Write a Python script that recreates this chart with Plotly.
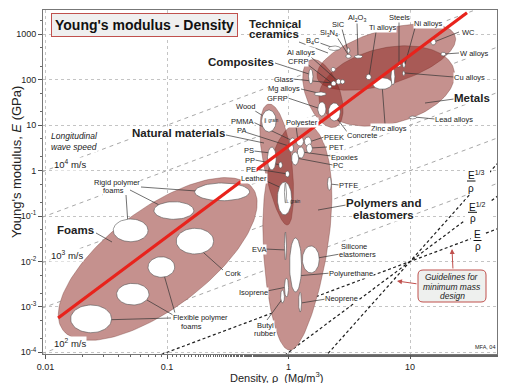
import numpy as np
import plotly.graph_objects as go

# ---------------- data (Young's modulus E in GPa, density rho in Mg/m^3) ----------------
wave_speed_k = [2, 1, 0, -1, -2]          # guide lines E = 10**k * rho
guide_slope = [1, 2, 3]                   # E/rho, E^1/2/rho, E^1/3/rho guidelines
guide_rho0 = 10.0                         # all three pass through this point
guide_E0 = 0.01

red_rho = [0.0127, 29.4]
red_E = [5.69e-4, 2990.0]

# family envelopes: major-axis end points, relative width, egg factor
fam_name = ["Foams", "Natural materials", "Polymers and elastomers",
            "Technical ceramics", "Metals", "Composites"]
fam_rho1 = [0.0139, 0.684, 1.30, 1.727, 1.794, 1.513]
fam_E1 = [3.1e-4, 29.2, 11.7, 109.0, 32.4, 272.0]
fam_rho2 = [0.506, 0.979, 1.017, 23.5, 23.0, 2.427]
fam_E2 = [0.414, 0.0635, 1.12e-4, 918.0, 163.8, 9.11]
fam_width = [0.42, 0.23, 0.29, 0.375, 0.548, 0.475]
fam_egg = [0.0, 0.2, 0.25, 0.0, 0.0, 0.0]

# material property bubbles
mat_name = ["Rigid polymer foam 1", "Rigid polymer foam 2", "Rigid polymer foam 3", "Cork",
            "Flexible polymer foam 1", "Flexible polymer foam 2", "Flexible polymer foam 3",
            "B4C", "SiC", "Si3N4", "Al2O3", "WC",
            "W alloys", "Ni alloys", "Steels", "Cu alloys", "Ti alloys", "Zinc alloys", "Cast irons",
            "Lead alloys", "Al alloys 1", "Al alloys 2", "Mg alloys",
            "Glass 1", "Glass 2", "Al-SiC", "CFRP", "GFRP", "Concrete",
            "Wood parallel", "Wood perpendicular", "Leather",
            "PS", "PP", "PE", "PMMA", "PA", "Polyester", "PEEK", "PET", "Epoxies", "PC", "PTFE",
            "EVA", "Polyurethane", "Silicone elastomers", "Isoprene", "Butyl rubber", "Neoprene"]
mat_rho_lo = [0.169, 0.078, 0.0361, 0.119, 0.0698, 0.0385, 0.0161,
              2.13, 3.03, 2.96, 3.48, 14.8,
              17.9, 8.66, 7.65, 8.66, 4.34, 4.91, 6.96,
              9.83, 2.46, 2.67, 1.63,
              2.24, 2.10, 2.24, 1.46, 1.74, 2.13,
              0.60, 0.81, 0.925,
              0.67, 0.83, 0.94, 1.02, 1.00, 1.16, 1.35, 1.40, 1.18, 1.06, 2.09,
              0.925, 1.02, 1.30, 0.925, 0.86, 1.21]
mat_rho_hi = [0.478, 0.166, 0.0698, 0.242, 0.1156, 0.0711, 0.035,
              2.67, 3.20, 3.27, 4.06, 16.3,
              19.7, 9.12, 8.40, 9.07, 4.79, 7.09, 7.50,
              11.3, 2.70, 2.90, 2.04,
              2.46, 2.26, 2.43, 1.59, 2.03, 2.67,
              0.79, 1.06, 0.961,
              0.79, 0.89, 1.02, 1.14, 1.10, 1.33, 1.54, 1.57, 1.35, 1.21, 2.25,
              0.961, 1.28, 1.79, 1.00, 0.925, 1.28]
mat_E_lo = [0.217, 0.0847, 0.0272, 0.0146, 0.00448, 0.0011, 0.00027,
            440, 382, 297, 297, 582,
            333, 184, 191, 123, 100, 61.6, 76.6,
            13.7, 79.4, 80.6, 43.9,
            72.8, 64.8, 150, 80.6, 15.9, 12.4,
            7.1, 0.106, 0.194,
            1.03, 1.14, 0.72, 3.66, 2.57, 3.48, 3.48, 2.44, 1.89, 1.33, 0.37,
            0.0108, 0.00213, 0.0056, 0.00165, 0.00122, 0.00077]
mat_E_hi = [0.533, 0.207, 0.086, 0.0537, 0.0127, 0.0033, 0.0011,
            553, 507, 363, 351, 788,
            402, 250, 230, 156, 132, 111, 179,
            15.9, 104, 101, 53.7,
            93.8, 76.6, 188, 172, 32.4, 30.8,
            21.6, 0.56, 0.533,
            3.3, 1.55, 0.98, 5.22, 3.85, 5.58, 5.49, 3.85, 3.31, 2.57, 0.72,
            0.0445, 0.0329, 0.0219, 0.0043, 0.00235, 0.0021]

x_tick_vals = [0.01, 0.1, 1, 10]
x_tick_text = ["0.01", "0.1", "1", "10"]
y_tick_vals = [1e-4, 1e-3, 1e-2, 1e-1, 1, 10, 100, 1000]
y_tick_text = ["10<sup>-4</sup>", "10<sup>-3</sup>", "10<sup>-2</sup>", "10<sup>-1</sup>",
               "1", "10", "100", "1000"]

# ---------------- layout geometry ----------------
OFF = 8                       # page body margin around the figure
FIG_W, FIG_H = 490, 375
ML, MR, MT, MB = 35, 1, 2, 29
PW, PH = FIG_W - ML - MR, FIG_H - MT - MB
PL, PB = OFF + ML, OFF + FIG_H - MB          # plot left / bottom in page pixels
XR = [-2.0205, 1.7151]
YR = [-4.037, 3.535]
FONT = "Liberation Sans, Arial, Helvetica, sans-serif"
ENV_FILL = "rgba(140,35,30,0.5)"
ENV_LINE = "rgba(100,40,35,0.55)"
BOX_RED = "#c0504d"

aspect = (PH / (YR[1] - YR[0])) / (PW / (XR[1] - XR[0]))


def px_to_data(px, py):
    lx = XR[0] + (px - PL) / PW * (XR[1] - XR[0])
    ly = YR[0] + (PB - py) / PH * (YR[1] - YR[0])
    return 10 ** lx, 10 ** ly


def px_to_paper(px, py):
    return (px - PL) / PW, (PB - py) / PH


def envelope(r1, e1, r2, e2, ratio, egg, n=160):
    u1, v1 = np.log10(r1), np.log10(e1) * aspect
    u2, v2 = np.log10(r2), np.log10(e2) * aspect
    cu, cv = (u1 + u2) / 2, (v1 + v2) / 2
    du, dv = u2 - u1, v2 - v1
    length = np.hypot(du, dv)
    a = length / 2
    ux, uy = du / length, dv / length
    nx, ny = -uy, ux
    t = np.linspace(0, 2 * np.pi, n)
    s = -np.cos(t)
    w = np.sin(t) * ratio * a * (1 - egg * s)
    U = cu + s * a * ux + w * nx
    V = cv + s * a * uy + w * ny
    return 10 ** U, 10 ** (V / aspect)


def bubble(rlo, rhi, elo, ehi, n=60):
    t = np.linspace(0, 2 * np.pi, n)
    lx0, lx1 = np.log10(rlo), np.log10(rhi)
    ly0, ly1 = np.log10(elo), np.log10(ehi)
    X = (lx0 + lx1) / 2 + (lx1 - lx0) / 2 * np.cos(t)
    Y = (ly0 + ly1) / 2 + (ly1 - ly0) / 2 * np.sin(t)
    return 10 ** X, 10 ** Y


fig = go.Figure()

# longitudinal wave speed guide lines
gr = np.array([0.004, 100.0])
for k in wave_speed_k:
    fig.add_trace(go.Scatter(x=gr, y=10.0 ** k * gr, mode="lines",
                             line=dict(color="#a8a8a8", width=1, dash="4px,4px"),
                             hoverinfo="skip", showlegend=False))

# minimum mass design guidelines
for m in guide_slope:
    rr = np.array([0.05, 100.0])
    fig.add_trace(go.Scatter(x=rr, y=guide_E0 * (rr / guide_rho0) ** m, mode="lines",
                             line=dict(color="#1e1e1e", width=1.2, dash="3px,2.5px"),
                             hoverinfo="skip", showlegend=False))

# white underlays for envelopes
env_paths = [envelope(fam_rho1[i], fam_E1[i], fam_rho2[i], fam_E2[i], fam_width[i], fam_egg[i])
             for i in range(len(fam_name))]
for ex, ey in env_paths:
    fig.add_trace(go.Scatter(x=ex, y=ey, mode="lines", fill="toself", fillcolor="white",
                             line=dict(width=0), hoverinfo="skip", showlegend=False))
for ex, ey in env_paths:
    fig.add_trace(go.Scatter(x=ex, y=ey, mode="lines", fill="toself", fillcolor=ENV_FILL,
                             line=dict(color=ENV_LINE, width=0.6), hoverinfo="skip", showlegend=False))

# leader lines (page pixel layout positions)
leaders = [
    ((299, 42), (328, 53)), ((275, 63), (309, 74)), ((226, 135), (264, 143)),
    ((454, 99), (425, 103)), ((346, 205), (318, 210)), ((96, 233), (112, 242)),
    ((357, 22), (358, 56)), ((342, 29), (348, 51)), ((337, 37), (349, 56)),
    ((320, 43), (334, 48)), ((376, 32), (369, 77)), ((399, 21), (399, 65)),
    ((415, 28), (405, 64)), ((459, 32), (434, 42)), ((459, 53), (444, 54)),
    ((454, 77), (405, 73)), ((435, 119), (414, 117)), ((385, 124), (382, 84)),
    ((348, 133), (335, 116)), ((311, 57), (339, 82)), ((307, 64), (333, 84)),
    ((293, 79), (332, 83)), ((301, 89), (318, 93)), ((288, 98), (321, 109)),
    ((252, 109), (268, 119)), ((253, 122), (293, 141)), ((245, 132), (292, 147)),
    ((296, 126), (298, 141)), ((324, 137), (309, 142)), ((327, 147), (311, 148)),
    ((331, 156), (302, 152)), ((333, 165), (296, 158)), ((254, 151), (271, 153)),
    ((255, 160), (281, 165)), ((256, 169), (288, 174)), ((264, 180), (286, 190)),
    ((339, 185), (330, 184)), ((265, 249), (286, 250)), ((340, 254), (312, 259)),
    ((331, 273), (296, 276)), ((267, 291), (287, 287)), ((326, 299), (301, 303)),
    ((267, 320), (283, 298)),
    ((141, 187), (210, 192)), ((130, 190), (165, 208)), ((126, 195), (128, 225)),
    ((223, 270), (195, 245)),
    ((171, 318), (100, 320)), ((173, 315), (140, 296)), ((175, 313), (162, 268)),
]
lx, ly = [], []
for (a, b) in leaders:
    x0, y0 = px_to_data(*a)
    x1, y1 = px_to_data(*b)
    lx += [x0, x1, None]
    ly += [y0, y1, None]
fig.add_trace(go.Scatter(x=lx, y=ly, mode="lines", line=dict(color="#333333", width=0.7),
                         hoverinfo="skip", showlegend=False))

# material bubbles
for i in range(len(mat_name)):
    bx, by = bubble(mat_rho_lo[i], mat_rho_hi[i], mat_E_lo[i], mat_E_hi[i])
    fig.add_trace(go.Scatter(x=bx, y=by, mode="lines", fill="toself", fillcolor="white",
                             line=dict(color="#555555", width=0.6), name=mat_name[i],
                             hoverinfo="skip", showlegend=False))

# red selection line
fig.add_trace(go.Scatter(x=red_rho, y=red_E, mode="lines",
                         line=dict(color="#e8231c", width=3.2), hoverinfo="skip", showlegend=False))

# ---------------- annotations ----------------
annotations = []
shapes = []


def lab(text, px, py, size=7.5, bold=False, italic=False, xanchor="center", bg=True, color="#222222"):
    if bold:
        text = "<b>" + text + "</b>"
    if italic:
        text = "<i>" + text + "</i>"
    x, y = px_to_paper(px, py)
    annotations.append(dict(text=text, x=x, y=y, xref="paper", yref="paper", xanchor=xanchor,
                            yanchor="middle", showarrow=False,
                            font=dict(size=size, family=FONT, color=color),
                            bgcolor="white" if bg else "rgba(0,0,0,0)", borderpad=0))


# family labels
lab("ceramics", 248, 34, 11.5, bold=True, xanchor="left", bg=False)
lab("Technical", 248, 24, 11.5, bold=True, xanchor="left", bg=False)
lab("Composites", 241, 62, 11.5, bold=True)
lab("Natural materials", 178, 133, 11.5, bold=True)
lab("Metals", 472, 98, 11.5, bold=True)
lab("elastomers", 383, 214.5, 11.5, bold=True)
lab("Polymers and", 383, 203, 11.5, bold=True)
lab("Foams", 75, 230, 11.5, bold=True)

small = [
    ("Al<sub>2</sub>O<sub>3</sub>", 357, 18), ("SiC", 338, 25), ("Si<sub>3</sub>N<sub>4</sub>", 329, 33),
    ("B<sub>4</sub>C", 313, 41), ("Ti alloys", 382, 28), ("Steels", 399, 17), ("Ni alloys", 428, 24),
    ("WC", 468, 32), ("W alloys", 474, 53), ("Cu alloys", 469, 77), ("Lead alloys", 454, 119),
    ("Zinc alloys", 389, 128), ("Concrete", 362, 135), ("Al alloys", 301, 52), ("CFRP", 298, 61),
    ("Glass", 283, 79), ("Mg alloys", 284, 89), ("GFRP", 277, 98), ("Wood", 245, 107),
    ("PMMA", 242, 121), ("PA", 241, 131), ("Polyester", 302, 122), ("PEEK", 334, 137),
    ("PET", 336, 147), ("Epoxies", 344, 157), ("PC", 338, 165), ("PS", 249, 151), ("PP", 250, 160),
    ("PE", 251, 169), ("Leather", 254, 178), ("PTFE", 348, 185), ("EVA", 259, 249),
    ("elastomers", 357, 254.5), ("Silicone", 354, 246.5), ("Polyurethane", 351, 273),
    ("Isoprene", 253, 292), ("Neoprene", 341, 298), ("rubber", 265, 333.5), ("Butyl", 265, 325.5),
    ("foams", 113, 190.5), ("Rigid polymer", 117, 182), ("Cork", 233, 273),
    ("foams", 191, 326), ("Flexible polymer", 200, 317),
]
for t, px, py in small:
    lab(t, px, py, 7.5)

lab("\u2225 grain", 271, 121, 4.5, bg=False)
lab("\u22a5 grain", 293, 201, 4.5, bg=False)

lab("wave speed", 50, 146.5, 8.5, italic=True, xanchor="left")
lab("Longitudinal", 50, 136, 8.5, italic=True, xanchor="left")
lab("10<sup>4</sup> m/s", 53, 164, 9.5, xanchor="left")
lab("10<sup>3</sup> m/s", 50, 255, 9.5, xanchor="left")
lab("10<sup>2</sup> m/s", 53, 343, 9.5, xanchor="left")
lab("MFA, 04", 485, 347, 5.5, bg=False)

# title box
tx, ty = px_to_paper(144.5, 25)
annotations.append(dict(text="<b>Young's modulus - Density</b>", x=tx, y=ty, xref="paper", yref="paper",
                        xanchor="center", yanchor="middle",
                        showarrow=False, font=dict(size=14, family=FONT, color="#111111"),
                        bgcolor="#efefef", bordercolor=BOX_RED, borderwidth=1, borderpad=3))

# axis titles
tx, ty = px_to_paper(276, 376.5)
annotations.append(dict(text="Density, \u03c1\u00a0\u00a0(Mg/m<sup>3</sup>)", x=tx, y=ty, xref="paper",
                        yref="paper", xanchor="center", yanchor="middle", showarrow=False,
                        font=dict(size=11, family=FONT, color="#222222")))
tx, ty = px_to_paper(16, 162)
annotations.append(dict(text="Young's modulus, <i>E</i> (GPa)", x=tx, y=ty, xref="paper", yref="paper",
                        xanchor="center", yanchor="middle",
                        textangle=-90, showarrow=False, font=dict(size=13, family=FONT, color="#222222")))


def rect_px(x0, y0, x1, y1, **kw):
    a0, b0 = px_to_paper(x0, y1)
    a1, b1 = px_to_paper(x1, y0)
    shapes.append(dict(type="rect", xref="paper", yref="paper", x0=a0, y0=b0, x1=a1, y1=b1,
                       layer="above", **kw))


def line_px(x0, y0, x1, y1, **kw):
    a0, b0 = px_to_paper(x0, y0)
    a1, b1 = px_to_paper(x1, y1)
    shapes.append(dict(type="line", xref="paper", yref="paper", x0=a0, y0=b0, x1=a1, y1=b1,
                       layer="above", **kw))


# fraction labels of the guidelines
rect_px(465, 168, 490, 194, fillcolor="white", line=dict(width=0))
rect_px(465, 200, 490, 223, fillcolor="white", line=dict(width=0))
rect_px(471, 228, 485, 252, fillcolor="white", line=dict(width=0))
line_px(467, 181, 475.5, 181, line=dict(color="#111111", width=1))
line_px(468, 212.3, 477, 212.3, line=dict(color="#111111", width=1))
line_px(473.5, 240.5, 481.5, 240.5, line=dict(color="#111111", width=1))
lab("E<sup>1/3</sup>", 466.5, 174.5, 10, xanchor="left", bg=False, color="#111111")
lab("\u03c1", 471.3, 188, 10, bg=False, color="#111111")
lab("E<sup>1/2</sup>", 467.5, 206.5, 10, xanchor="left", bg=False, color="#111111")
lab("\u03c1", 472.5, 218.5, 10, bg=False, color="#111111")
lab("E", 477.5, 234.5, 10, bg=False, color="#111111")
lab("\u03c1", 477.5, 246.5, 10, bg=False, color="#111111")

# guidelines box (rounded)
bx0, by1 = px_to_paper(418, 302)
bx1, by0 = px_to_paper(486, 270)
rx, ry = 5 / PW, 5 / PH
path = (f"M {bx0+rx},{by0} L {bx1-rx},{by0} Q {bx1},{by0} {bx1},{by0-ry} "
        f"L {bx1},{by1+ry} Q {bx1},{by1} {bx1-rx},{by1} L {bx0+rx},{by1} "
        f"Q {bx0},{by1} {bx0},{by1+ry} L {bx0},{by0-ry} Q {bx0},{by0} {bx0+rx},{by0} Z")
shapes.append(dict(type="path", xref="paper", yref="paper", path=path, fillcolor="#eef0ee",
                   line=dict(color=BOX_RED, width=1), layer="above"))
lab("Guidelines for", 452, 276.5, 8.5, italic=True, bg=False)
lab("minimum mass", 452, 286.5, 8.5, italic=True, bg=False)
lab("design", 452, 296, 8.5, italic=True, bg=False)
for (hx, hy), (tx_, ty_) in [((397, 281), (418, 284)), ((452, 249), (453, 270))]:
    px_, py_ = px_to_paper(hx, hy)
    annotations.append(dict(text="", x=px_, y=py_, xref="paper", yref="paper", ax=tx_ - hx, ay=ty_ - hy,
                            showarrow=True, arrowhead=2, arrowsize=1, arrowwidth=1, arrowcolor=BOX_RED))

axis_common = dict(type="log", showline=True, linecolor="#777777", linewidth=0.8, mirror=True,
                   ticks="outside", ticklen=4, tickwidth=0.8, tickcolor="#555555",
                   showgrid=True, gridcolor="#c4c4c4", gridwidth=0.8, griddash="dot",
                   zeroline=False, tickfont=dict(size=9, family=FONT, color="#222222"),
                   minor=dict(ticks="outside", ticklen=2, tickwidth=0.6, tickcolor="#666666", showgrid=False))

fig.update_layout(
    width=FIG_W, height=FIG_H,
    margin=dict(l=ML, r=MR, t=MT, b=MB, autoexpand=False),
    paper_bgcolor="white", plot_bgcolor="white",
    xaxis=dict(range=XR, tickmode="array", tickvals=x_tick_vals, ticktext=x_tick_text, **axis_common),
    yaxis=dict(range=YR, tickmode="array", tickvals=y_tick_vals, ticktext=y_tick_text, **axis_common),
    annotations=annotations, shapes=shapes, showlegend=False, hovermode=False,
)

fig.write_html("out.html")
